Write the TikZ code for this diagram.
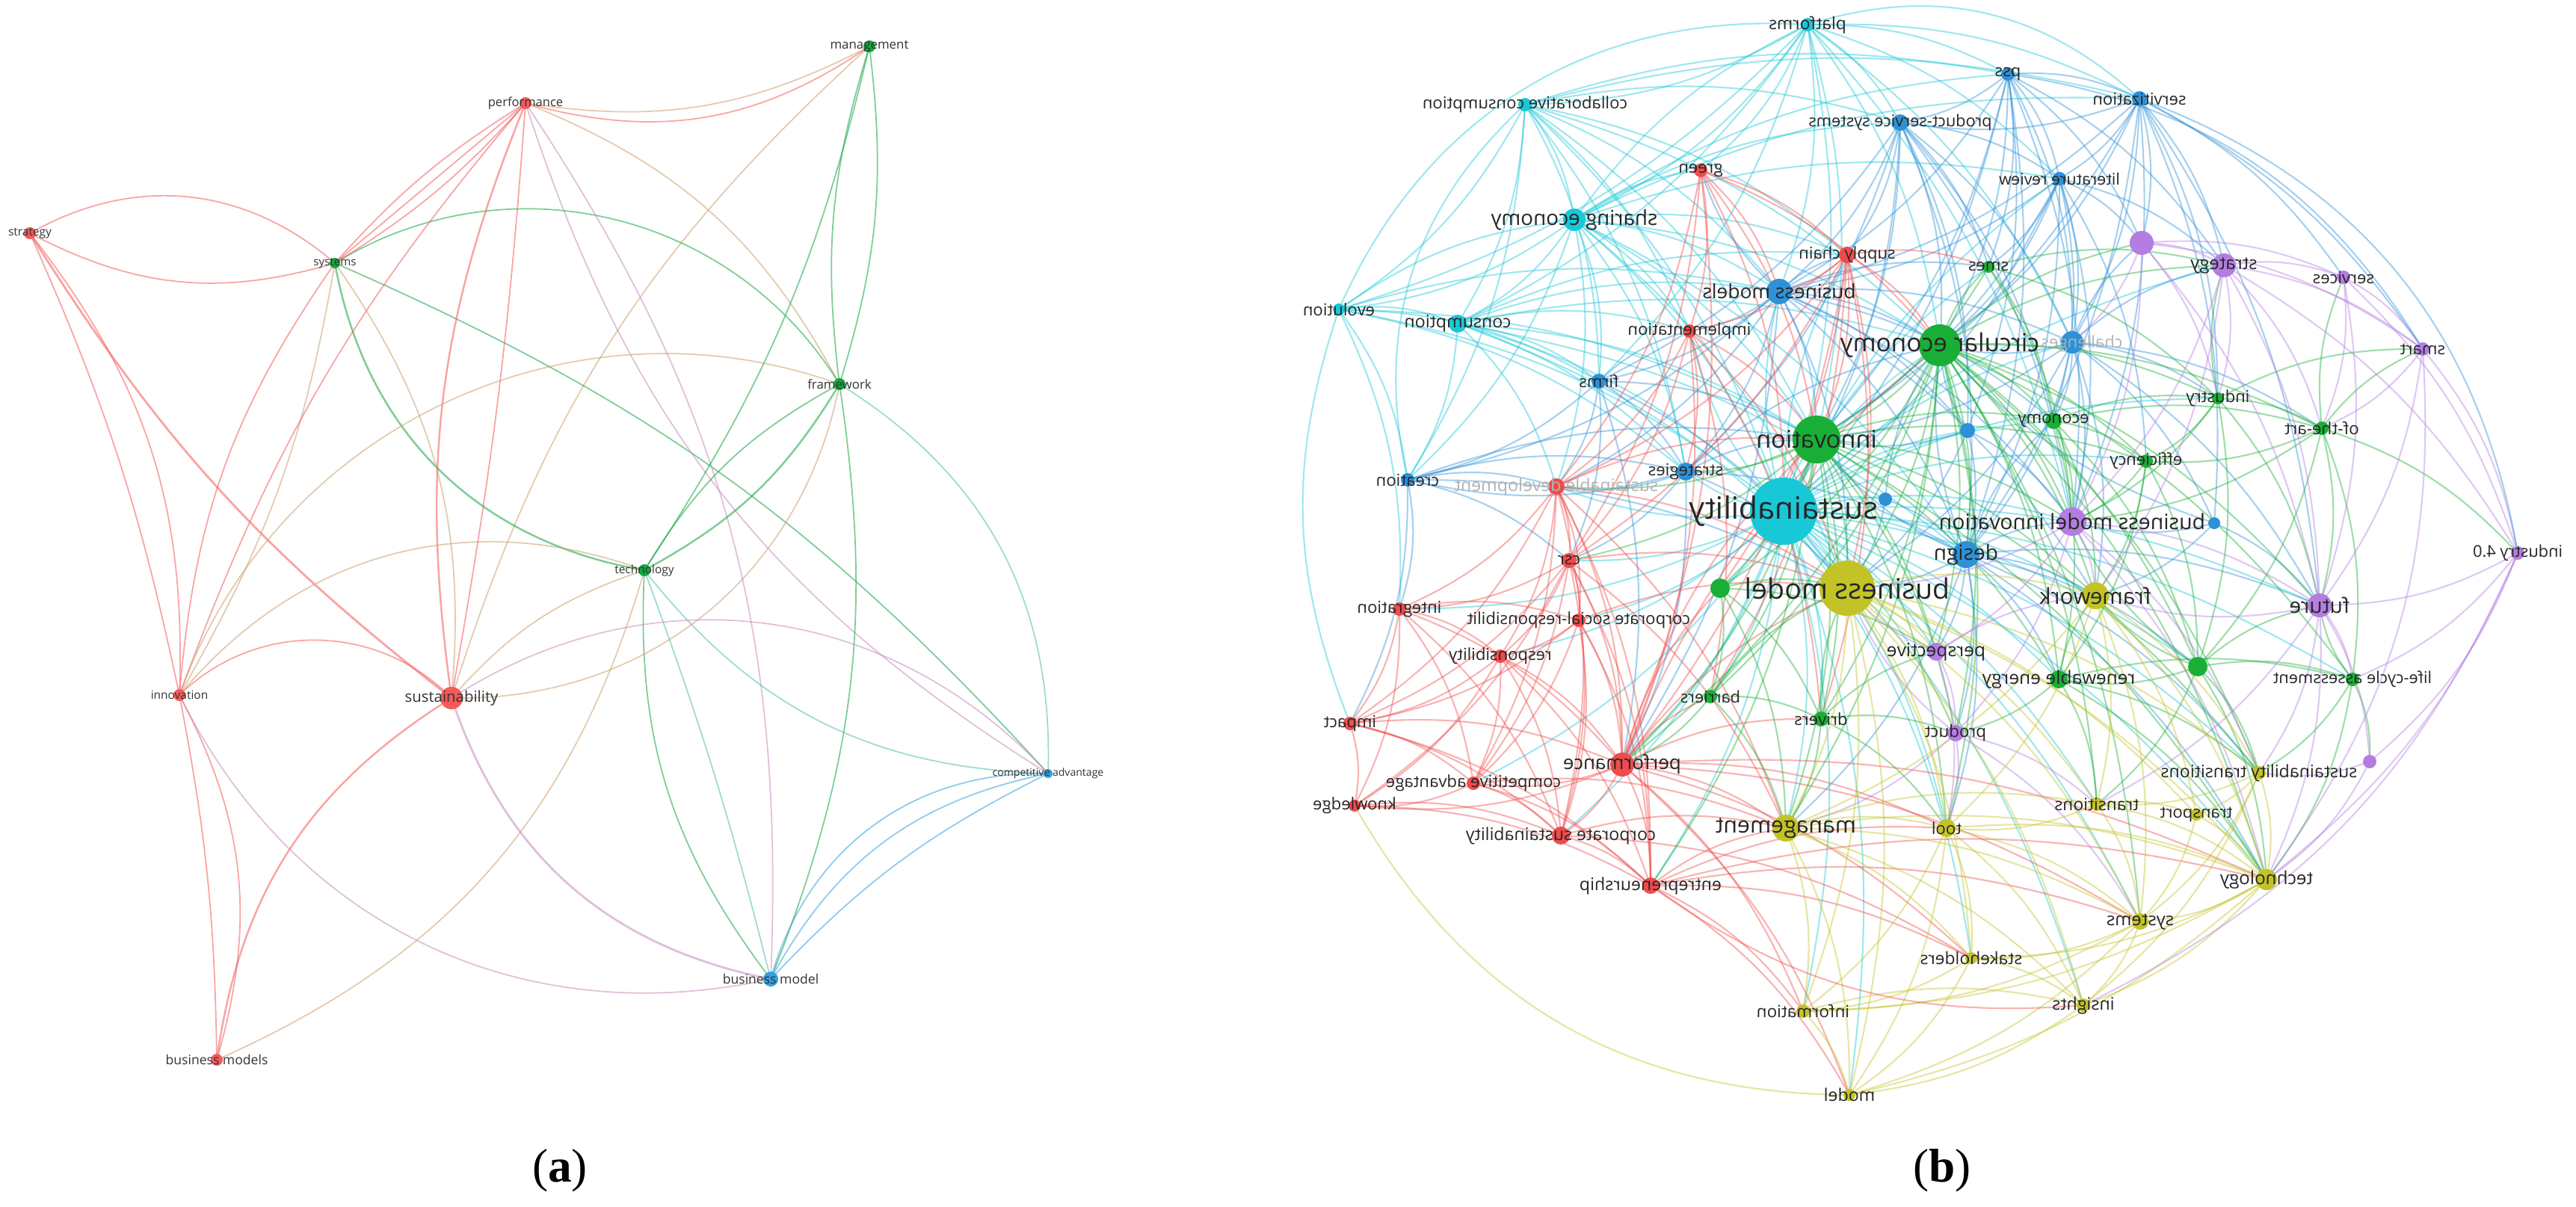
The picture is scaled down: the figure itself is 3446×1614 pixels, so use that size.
\documentclass[tikz,border=0pt]{standalone}
\usepackage{fontspec}
\usepackage{graphicx}
\setmainfont{Liberation Serif}
\newfontfamily\vosfont{Open Sans}
\pgfdeclarelayer{back}
\pgfdeclarelayer{edges}
\pgfdeclarelayer{labels}
\pgfsetlayers{back,edges,main,labels}
% panel (a) colours
\definecolor{aR}{RGB}{245,90,90}
\definecolor{aG}{RGB}{20,165,65}
\definecolor{aB}{RGB}{50,160,225}
\definecolor{aO}{RGB}{205,160,110}
\definecolor{aRB}{RGB}{200,140,190}
\definecolor{aGB}{RGB}{80,190,170}
% panel (b) colours
\definecolor{vR}{RGB}{240,75,75}
\definecolor{vG}{RGB}{25,175,55}
\definecolor{vB}{RGB}{45,145,215}
\definecolor{vC}{RGB}{25,200,215}
\definecolor{vY}{RGB}{195,195,40}
\definecolor{vP}{RGB}{180,125,225}
\tikzset{
  vdot/.style={circle,inner sep=0pt,draw=none},
  alab/.style={inner sep=0pt,text=black!80},
  blab/.style={inner sep=0pt,text=black!85},
  flab/.style={inner sep=0pt,text=black!30},
  ea/.style={line width=0.5pt,opacity=0.55},
  eb/.style={line width=0.6pt,opacity=0.42},
  captxt/.style={inner sep=0pt,font=\fontsize{18pt}{18pt}\selectfont}
}
% panel (a) node: name, x, y, radius, colour, font size, text
\newcommand\vnA[7]{%
  \node[vdot,fill=#5,minimum size={#4*0.2mm}] (#1) at (#2,#3) {};
  \begin{pgfonlayer}{labels}
  \node[alab,font={\vosfont\fontsize{#6pt}{#6pt}\selectfont}] (l#1) at (#2,#3) {#7};
  \end{pgfonlayer}}
% panel (b) node (mirrored label)
\newcommand\vnB[7]{%
  \node[vdot,fill=#5,minimum size={#4*0.2mm}] (#1) at (#2,#3) {};
  \begin{pgfonlayer}{labels}
  \node[blab,font={\vosfont\fontsize{#6pt}{#6pt}\selectfont}] (l#1) at (#2,#3) {\reflectbox{#7}};
  \end{pgfonlayer}}
% panel (b) dot without label
\newcommand\vdB[5]{%
  \node[vdot,fill=#5,minimum size={#4*0.2mm}] (#1) at (#2,#3) {};}
\begin{document}
\begin{tikzpicture}[x=0.1mm,y=-0.1mm]
\useasboundingbox (0,0) rectangle (3446,1614);
\begin{pgfonlayer}{back}
\fill[white] (0,0) rectangle (3446,1614);
\end{pgfonlayer}

% ================= panel (a) =================
\vnA{am}{1163}{62}{8}{aG}{4.8}{management}
\vnA{ap}{703}{138}{8}{aR}{4.7}{performance}
\vnA{as}{40}{312}{8}{aR}{4.4}{strategy}
\vnA{asy}{448}{352}{7}{aG}{4.3}{systems}
\vnA{af}{1123}{514}{8}{aG}{4.8}{framework}
\vnA{at}{862}{763}{8}{aG}{4.4}{technology}
\vnA{ai}{240}{930}{8}{aR}{4.4}{innovation}
\vnA{asu}{604}{934}{15}{aR}{5.8}{sustainability}
\vnA{ac}{1402}{1035}{6}{aB}{4.0}{competitive advantage}
\vnA{abm}{1031}{1310}{10}{aB}{5.0}{business model}
\vnA{abs}{290}{1418}{8}{aR}{5.0}{business models}

\begin{pgfonlayer}{edges}
\draw[ea,draw=aR] (as.center) to[bend left=35] (asy.center);
\draw[ea,draw=aR] (asy.center) to[bend left=22] (as.center);
\draw[ea,draw=aR,line width=0.8pt] (as.center) to[bend right=10] (asu.center);
\draw[ea,draw=aR] (as.center) to[bend left=20] (ai.center);
\draw[ea,draw=aR] (as.center) to[bend left=6] (ai.center);
\draw[ea,draw=aR] (ap.center) to[bend right=25] (am.center);
\draw[ea,draw=aO] (am.center) to[bend left=18] (ap.center);
\draw[ea,draw=aO] (ap.center) to[bend left=20] (af.center);
\draw[ea,draw=aO] (asu.center) to[bend left=15] (am.center);
\draw[ea,draw=aG] (asy.center) to[bend left=45] (af.center);
\draw[ea,draw=aG,line width=0.7pt] (asy.center) to[bend right=35] (at.center);
\draw[ea,draw=aR] (ap.center) to[bend left=8] (asy.center);
\draw[ea,draw=aR] (ap.center) to[bend right=8] (asy.center);
\draw[ea,draw=aR] (ap.center) to (asy.center);
\draw[ea,draw=aR] (asy.center) to[bend right=15] (ai.center);
\draw[ea,draw=aO] (asy.center) to[bend left=10] (ai.center);
\draw[ea,draw=aO] (asy.center) to[bend left=20] (asu.center);
\draw[ea,draw=aG] (asy.center) to[bend left=12] (ac.center);
\draw[ea,draw=aR,line width=0.7pt] (ap.center) to[bend right=15] (asu.center);
\draw[ea,draw=aR] (ap.center) to[bend left=3] (asu.center);
\draw[ea,draw=aR] (ap.center) to[bend right=10] (ai.center);
\draw[ea,draw=aRB] (ap.center) to[bend left=18] (abm.center);
\draw[ea,draw=aRB] (ap.center) to[bend right=20] (ac.center);
\draw[ea,draw=aG] (af.center) to[bend left=12] (am.center);
\draw[ea,draw=aG] (af.center) to[bend right=12] (am.center);
\draw[ea,draw=aG,line width=0.7pt] (af.center) to[bend left=15] (at.center);
\draw[ea,draw=aG] (af.center) to[bend right=15] (at.center);
\draw[ea,draw=aG] (af.center) to[bend left=15] (abm.center);
\draw[ea,draw=aGB] (af.center) to[bend left=30] (ac.center);
\draw[ea,draw=aO] (ai.center) to[bend left=45] (af.center);
\draw[ea,draw=aO] (ai.center) to[bend left=35] (at.center);
\draw[ea,draw=aO] (asu.center) to[bend left=15] (at.center);
\draw[ea,draw=aG] (at.center) to[bend right=20] (abm.center);
\draw[ea,draw=aGB] (at.center) to[bend left=3] (abm.center);
\draw[ea,draw=aGB] (at.center) to[bend right=25] (ac.center);
\draw[ea,draw=aO] (at.center) to[bend left=25] (abs.center);
\draw[ea,draw=aO] (asu.center) to[bend right=40] (af.center);
\draw[ea,draw=aRB] (asu.center) to[bend left=40] (ac.center);
\draw[ea,draw=aRB,line width=0.8pt] (asu.center) to[bend right=30] (abm.center);
\draw[ea,draw=aR] (ai.center) to[bend left=45] (asu.center);
\draw[ea,draw=aR,line width=0.7pt] (asu.center) to[bend right=25] (abs.center);
\draw[ea,draw=aR] (ai.center) to[bend left=22] (abs.center);
\draw[ea,draw=aR] (ai.center) to[bend left=5] (abs.center);
\draw[ea,draw=aRB] (ai.center) to[bend right=38] (abm.center);
\draw[ea,draw=aB] (abm.center) to[bend left=10] (ac.center);
\draw[ea,draw=aB] (abm.center) to[bend left=25] (ac.center);
\draw[ea,draw=aB] (abm.center) to[bend left=38] (ac.center);
\draw[ea,draw=aG] (am.center) to[bend left=10] (at.center);
\end{pgfonlayer}

% ================= panel (b) =================
% cyan
\vnB{plat}{2418}{33}{9}{vC}{6.5}{platforms}
\vnB{colc}{2040}{140}{9}{vC}{6.3}{collaborative consumption}
\vnB{shar}{2106}{294}{15}{vC}{7.9}{sharing economy}
\vnB{evol}{1791}{414}{8}{vC}{6.3}{evolution}
\vnB{cons}{1950}{433}{12}{vC}{6.6}{consumption}
\vnB{sust}{2386}{684}{45}{vC}{11.7}{sustainability}
% blue
\vnB{pss}{2686}{99}{9}{vB}{6.3}{pss}
\vnB{serv}{2862}{132}{10}{vB}{6.3}{servitization}
\vnB{psys}{2542}{164}{11}{vB}{6.2}{product-service systems}
\vnB{litr}{2755}{239}{9}{vB}{6.1}{literature review}
\vnB{bms}{2380}{390}{17}{vB}{7.5}{business models}
\vdB{chal}{2772}{458}{15}{vB}
\vnB{firm}{2139}{510}{10}{vB}{6.3}{firms}
\vdB{bl1}{2632}{576}{10}{vB}
\vnB{strs}{2255}{631}{12}{vB}{6.3}{strategies}
\vnB{crea}{1883}{642}{9}{vB}{6.3}{creation}
\vdB{bl2}{2522}{668}{9}{vB}
\vdB{bl3}{2962}{700}{8}{vB}
\vnB{desi}{2630}{742}{18}{vB}{8.0}{design}
% red
\vnB{gree}{2275}{228}{9}{vR}{6.3}{green}
\vnB{supc}{2471}{341}{11}{vR}{6.3}{supply chain}
\vnB{impl}{2260}{443}{9}{vR}{6.3}{implementation}
\vdB{susd}{2082}{651}{11}{vR}
\vnB{csr}{2099}{750}{10}{vR}{6.3}{csr}
\vnB{integ}{1872}{815}{9}{vR}{6.3}{integration}
\vnB{corsr}{2112}{830}{9}{vR}{6.3}{corporate social-responsibilit}
\vnB{resp}{2007}{878}{9}{vR}{6.3}{responsibility}
\vnB{imp}{1806}{968}{9}{vR}{6.3}{impact}
\vnB{perf}{2170}{1023}{16}{vR}{7.4}{performance}
\vnB{compa}{1971}{1048}{9}{vR}{6.3}{competitive advantage}
\vnB{know}{1812}{1078}{8}{vR}{6.3}{knowledge}
\vnB{corps}{2088}{1118}{12}{vR}{6.6}{corporate sustainability}
\vnB{entr}{2208}{1185}{11}{vR}{6.6}{entrepreneurship}
% green
\vnB{smes}{2660}{357}{8}{vG}{6.3}{smes}
\vnB{circ}{2595}{462}{28}{vG}{9.5}{circular economy}
\vnB{indu}{2967}{533}{8}{vG}{6.3}{industry}
\vnB{econ}{2747}{563}{11}{vG}{6.3}{economy}
\vnB{stat}{3106}{573}{9}{vG}{6.4}{of-the-art}
\vnB{inno}{2430}{588}{32}{vG}{9.3}{innovation}
\vnB{effi}{2871}{617}{9}{vG}{6.3}{efficiency}
\vdB{gr1}{2301}{787}{13}{vG}
\vdB{gr2}{2940}{892}{13}{vG}
\vnB{rene}{2754}{909}{12}{vG}{7.0}{renewable energy}
\vnB{lca}{3147}{909}{9}{vG}{6.2}{life-cycle assessment}
\vnB{barr}{2288}{932}{9}{vG}{6.2}{barriers}
\vnB{driv}{2436}{962}{10}{vG}{6.3}{drivers}
% purple
\vdB{pu1}{2865}{325}{16}{vP}
\vnB{strat}{2975}{355}{16}{vP}{6.8}{strategy}
\vnB{servc}{3135}{371}{9}{vP}{6.3}{services}
\vnB{smart}{3241}{467}{9}{vP}{6.3}{smart}
\vnB{bmi}{2772}{698}{19}{vP}{8.1}{business model innovation}
\vnB{ind4}{3368}{740}{9}{vP}{6.2}{industry 4.0}
\vnB{fut}{3103}{810}{16}{vP}{8.0}{future}
\vnB{persp}{2590}{872}{12}{vP}{7.0}{perspective}
\vnB{prod}{2616}{981}{11}{vP}{6.4}{product}
\vdB{pu2}{3170}{1019}{9}{vP}
% olive
\vnB{bm}{2471}{787}{37}{vY}{10.7}{business model}
\vnB{fram}{2803}{797}{18}{vY}{8.4}{framework}
\vnB{stt}{3022}{1034}{9}{vY}{6.6}{sustainability transitions}
\vnB{tran}{2805}{1076}{9}{vY}{6.5}{transitions}
\vnB{trsp}{2938}{1090}{8}{vY}{6.3}{transport}
\vnB{mana}{2389}{1108}{18}{vY}{8.6}{management}
\vnB{tool}{2604}{1108}{12}{vY}{6.3}{tool}
\vnB{tech}{3032}{1177}{14}{vY}{6.9}{technology}
\vnB{syst}{2863}{1233}{11}{vY}{6.8}{systems}
\vnB{stak}{2637}{1282}{8}{vY}{6.5}{stakeholders}
\vnB{info}{2412}{1353}{9}{vY}{6.4}{information}
\vnB{insi}{2787}{1345}{9}{vY}{6.6}{insights}
\vnB{model}{2474}{1465}{8}{vY}{6.6}{model}
% faded labels
\begin{pgfonlayer}{labels}
\node[flab,font={\vosfont\fontsize{6.6pt}{6.6pt}\selectfont}] (lsusd) at (susd) {\reflectbox{sustainable development}};
\node[flab,font={\vosfont\fontsize{6.3pt}{6.3pt}\selectfont}] (lchal) at (2785,460) {\reflectbox{challenges}};
\end{pgfonlayer}

\begin{pgfonlayer}{edges}
\foreach \src/\col/\tgts in {
plat/vC/{colc,shar,cons,sust,bms,psys,pss,serv,inno,circ,firm,chal,litr,gree,bmi,evol},
colc/vC/{shar,evol,cons,sust,bms,psys,pss,firm,inno,crea,supc,impl,serv,circ,strs},
shar/vC/{evol,cons,sust,bms,psys,pss,firm,inno,circ,supc,strs,impl,gree,serv,litr,crea,desi,bm,susd,plat},
evol/vC/{cons,sust,firm,crea,strs,bms,inno,integ,shar},
cons/vC/{sust,bms,firm,inno,crea,strs,impl,circ,susd,bm,supc,desi},
sust/vC/{bm,inno,circ,bms,desi,bmi,fram,perf,mana,csr,susd,strs,persp,gr1,gr2,fut,tech,driv,barr,corps,entr,tool,rene,econ,effi,indu,strat,chal,smes,prod,stt,syst,tran,impl,supc,resp,integ,compa,info,model,stak,insi,lca,litr,bl1,bl2,corsr},
pss/vB/{psys,serv,litr,bms,circ,inno,sust,chal,bl1,desi,bmi,strat,pu1,smes},
serv/vB/{psys,litr,bms,circ,chal,bmi,strat,pu1,smart,servc,indu,fut,desi,bl3,inno},
psys/vB/{litr,bms,circ,inno,chal,desi,bl1,bmi,supc,smes,econ,strs,firm,sust},
litr/vB/{bms,circ,chal,inno,bmi,pu1,strat,smes,desi,econ,effi,sust},
bms/vB/{circ,inno,supc,impl,firm,strs,desi,bm,chal,bl1,gree,smes,econ,susd,perf,crea,bmi,fram},
chal/vB/{circ,inno,bmi,desi,strat,pu1,indu,econ,fut,fram,bl3,stat,bm},
firm/vB/{inno,strs,crea,susd,impl,bm,perf,csr},
strs/vB/{inno,bm,susd,crea,csr,perf,desi,circ},
crea/vB/{susd,integ,imp,strs,inno,csr,bm},
desi/vB/{bm,inno,circ,bmi,fram,persp,fut,gr2,prod,rene,econ,tool,mana,tech,stt},
bl1/vB/{circ,inno,bmi,bm,desi},
bl2/vB/{inno,bm,desi,circ},
bl3/vB/{bmi,fut,fram,circ},
gree/vR/{supc,impl,bms,circ,inno,perf,sust,susd,csr},
supc/vR/{impl,circ,inno,bms,perf,csr,susd,smes,driv,barr,bm,gr1},
impl/vR/{inno,susd,perf,csr,strs,bm,barr,driv},
susd/vR/{csr,integ,resp,perf,corsr,corps,imp,compa,entr,inno,bm,mana},
csr/vR/{integ,resp,corsr,perf,imp,compa,corps,entr,know,bm,mana},
integ/vR/{corsr,resp,imp,perf,compa,know,corps},
corsr/vR/{resp,perf,compa,corps,entr,imp,bm},
resp/vR/{perf,compa,imp,corps,entr,know},
imp/vR/{perf,compa,know,corps,entr},
perf/vR/{compa,know,corps,entr,mana,bm,inno,driv,barr,tool,gr1,stak,syst,tech,info,model,circ},
compa/vR/{know,corps,entr,mana},
know/vR/{corps,entr},
corps/vR/{entr,mana,stak},
entr/vR/{mana,stak,model,info,syst,tech,tool},
circ/vG/{inno,bm,smes,econ,indu,stat,effi,bmi,fram,gr2,rene,lca,desi,perf,mana,tech,fut,strat,driv,barr,gr1,prod,persp,stt,tran,syst,tool,pu1},
inno/vG/{bm,gr1,driv,barr,perf,mana,fram,bmi,econ,effi,rene,persp,prod,tool,tech,stt,entr,csr,susd,strs},
smes/vG/{econ,indu,inno,bmi,strat},
econ/vG/{indu,effi,stat,bmi,fram,gr2,rene},
indu/vG/{stat,effi,bmi,fut,strat,smart,gr2},
stat/vG/{effi,bmi,fut,lca,gr2,ind4,smart,servc},
effi/vG/{bmi,fram,gr2,rene},
gr1/vG/{bm,barr,driv,persp,mana},
gr2/vG/{fram,rene,lca,fut,bmi,tech,stt,tran},
rene/vG/{fram,stt,tran,tech,lca,prod},
lca/vG/{fut,pu2,stt,tech},
barr/vG/{driv,bm,mana,perf},
driv/vG/{bm,mana,tool,prod,persp},
pu1/vP/{strat,servc,smart,bmi,fut,indu,chal},
strat/vP/{servc,smart,bmi,fut,indu,stat,ind4,fram},
servc/vP/{smart,fut,ind4,stat},
smart/vP/{ind4,fut,stat},
bmi/vP/{fram,fut,persp,bm,prod,stt,tech},
ind4/vP/{fut,pu2,lca,tech},
fut/vP/{pu2,lca,stt,tech,fram,tran},
persp/vP/{bm,prod,fram,tool},
prod/vP/{tool,bm,mana,syst,tran},
pu2/vP/{stt,tech},
bm/vY/{fram,mana,tool,tech,syst,stak,info,insi,model,stt,tran,trsp,persp,prod},
fram/vY/{stt,tran,trsp,tech,syst,tool,mana},
stt/vY/{tran,trsp,tech,syst,insi},
tran/vY/{trsp,tech,syst,tool},
trsp/vY/{tech,syst},
mana/vY/{tool,stak,info,model,syst,tech,insi,tran},
tool/vY/{stak,syst,info,model,tech,insi},
tech/vY/{syst,insi,stak,model,info},
syst/vY/{stak,insi,model,info},
stak/vY/{info,model,insi},
info/vY/{model,insi},
insi/vY/{model}}
{\foreach \x in \tgts {\draw[eb,draw=\col] (\src.center) to[bend left=14] (\x.center);}}
% long outer arcs
\draw[eb,draw=vC] (plat.center) to[bend right=35] (evol.center);
\draw[eb,draw=vC] (plat.center) to[bend left=30] (serv.center);
\draw[eb,draw=vB] (serv.center) to[bend left=30] (ind4.center);
\draw[eb,draw=vB] (pss.center) to[bend left=25] (smart.center);
\draw[eb,draw=vC] (colc.center) to[bend right=30] (crea.center);
\draw[eb,draw=vC] (evol.center) to[bend right=20] (imp.center);
\draw[eb,draw=vP] (ind4.center) to[bend left=20] (insi.center);
\draw[eb,draw=vY] (model.center) to[bend left=30] (know.center);
\draw[eb,draw=vR] (entr.center) to[bend right=20] (insi.center);
\draw[eb,draw=vP] (smart.center) to[bend left=20] (tech.center);
\end{pgfonlayer}

% captions
\node[captxt] (capa) at (749,1566) {(\textbf{a})};
\node[captxt] (capb) at (2598,1566) {(\textbf{b})};
\end{tikzpicture}
\end{document}
